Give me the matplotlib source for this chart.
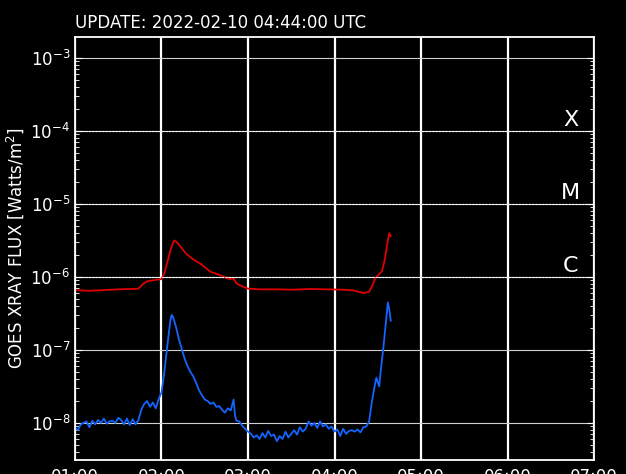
import numpy as np
import matplotlib
matplotlib.use("Agg")
import matplotlib.pyplot as plt
import matplotlib.dates as mdates
from matplotlib.ticker import LogLocator

# minutes after 01:00 UTC, log10 flux
blue_min = [0, 2, 4, 6, 8, 10, 12, 14, 16, 18, 20, 22, 24, 26, 28, 30, 32, 34, 36, 38,
            40, 42, 44, 46, 48, 50, 52, 54, 56, 58, 60, 62, 64, 66, 67, 68, 70, 72, 74, 76,
            78, 80, 82, 84, 86, 88, 90, 92, 94, 96, 98, 100, 102, 104, 106, 108, 110, 111, 112, 114,
            116, 118, 120, 122, 124, 126, 128, 130, 132, 134, 136, 138, 140, 142, 144, 146, 148, 150, 152, 154,
            156, 158, 160, 162, 164, 166, 168, 170, 172, 174, 176, 178, 180, 182, 184, 186, 188, 190, 192, 194,
            196, 198, 200, 202, 204, 206, 208, 209, 210, 211, 212, 214, 216, 217, 218, 219]
blue_log = [-8.07, -8.10, -8.02, -8.00, -7.98, -8.06, -7.97, -8.02, -7.96, -8.00,
            -7.94, -8.01, -7.98, -7.97, -8.00, -7.93, -7.96, -8.02, -7.94, -8.03,
            -7.95, -8.02, -7.96, -7.82, -7.74, -7.70, -7.78, -7.72, -7.80, -7.68,
            -7.58, -7.30, -6.95, -6.62, -6.52, -6.55, -6.68, -6.85, -6.98, -7.12,
            -7.22, -7.30, -7.36, -7.45, -7.55, -7.62, -7.68, -7.70, -7.74, -7.72,
            -7.78, -7.77, -7.82, -7.86, -7.80, -7.83, -7.68, -7.90, -7.97, -7.98,
            -8.04, -8.08, -8.12, -8.15, -8.20, -8.17, -8.22, -8.14, -8.20, -8.11,
            -8.18, -8.16, -8.25, -8.18, -8.22, -8.12, -8.20, -8.15, -8.10, -8.16,
            -8.06, -8.12, -8.08, -7.98, -8.04, -8.00, -8.07, -7.98, -8.05, -8.02,
            -8.08, -8.05, -8.12, -8.09, -8.18, -8.08, -8.15, -8.11, -8.10, -8.12,
            -8.09, -8.13, -8.06, -8.05, -7.98, -7.70, -7.48, -7.38, -7.44, -7.50,
            -7.30, -6.95, -6.55, -6.35, -6.45, -6.60]

red_min = [0, 10, 20, 30, 40, 44, 47, 50, 56, 60, 62, 64, 66, 68, 69, 71, 73, 77, 82, 87,
           94, 100, 107, 110, 112, 116, 120, 128, 140, 151, 163, 174, 186, 193, 198, 201, 204, 206,
           208, 209, 211, 213, 215, 217, 218, 219]
red_log = [-6.18, -6.19, -6.18, -6.17, -6.165, -6.16, -6.10, -6.06, -6.04, -6.03,
           -5.95, -5.80, -5.65, -5.53, -5.50, -5.53, -5.58, -5.68, -5.76, -5.82,
           -5.93, -5.97, -6.03, -6.02, -6.09, -6.13, -6.16, -6.17, -6.17, -6.175,
           -6.165, -6.17, -6.175, -6.185, -6.21, -6.22, -6.20, -6.13,
           -6.03, -6.00, -5.96, -5.92, -5.75, -5.50, -5.40, -5.44]

hour_ticks = ["01:00", "02:00", "03:00", "04:00", "05:00", "06:00", "07:00"]
classes = ["X", "M", "C"]
class_levels = [1e-4, 1e-5, 1e-6]
title = "UPDATE: 2022-02-10 04:44:00 UTC"

t0 = np.datetime64("2022-02-10T01:00")


def to_time(mins):
    return t0 + np.array(mins).astype("timedelta64[m]")


fig = plt.figure(figsize=(6.26, 4.74), dpi=100, facecolor="black")
ax = fig.add_axes([0.1198, 0.0295, 0.8291, 0.8925], facecolor="black")

ax.plot(to_time(red_min), 10 ** np.array(red_log), color="#e00000", lw=1.3)
ax.plot(to_time(blue_min), 10 ** np.array(blue_log), color="#1464ff", lw=1.3)

ax.set_yscale("log")
ax.set_ylim(3.1e-9, 1.94e-3)
ax.set_xlim(t0, t0 + np.timedelta64(6, "h"))

ax.xaxis.set_major_locator(mdates.HourLocator())
ax.xaxis.set_major_formatter(mdates.DateFormatter("%H:%M"))
ax.yaxis.set_major_locator(LogLocator(base=10, numticks=20))
ax.yaxis.set_minor_locator(LogLocator(base=10, subs=np.arange(2, 10), numticks=20))

ax.grid(True, axis="x", color="white", lw=1.6)
ax.grid(True, axis="y", which="major", color="#d0d0d0", lw=0.8)
for lvl in class_levels:
    ax.axhline(lvl, color="white", lw=0.8, ls=(0, (2, 1)))

for s in ax.spines.values():
    s.set_color("white")
    s.set_linewidth(1.3)

ax.tick_params(axis="both", which="both", direction="in", colors="white",
               labelsize=12, right=True)
ax.tick_params(axis="y", which="major", length=5)
ax.tick_params(axis="y", which="minor", length=3)
ax.tick_params(axis="x", length=0, pad=6)

for name, lvl in zip(classes, class_levels):
    ax.text(0.955, lvl * 1.02, name, transform=ax.get_yaxis_transform(),
            color="white", fontsize=16, ha="center", va="bottom")

ax.set_ylabel("GOES XRAY FLUX [Watts/m$^2$]", color="white", fontsize=12)
ax.yaxis.set_label_coords(-0.095, 0.5)
fig.text(0.1198, 0.932, title, color="white", fontsize=12, ha="left", va="bottom")

fig.savefig("out.png", dpi=100, facecolor="black")
